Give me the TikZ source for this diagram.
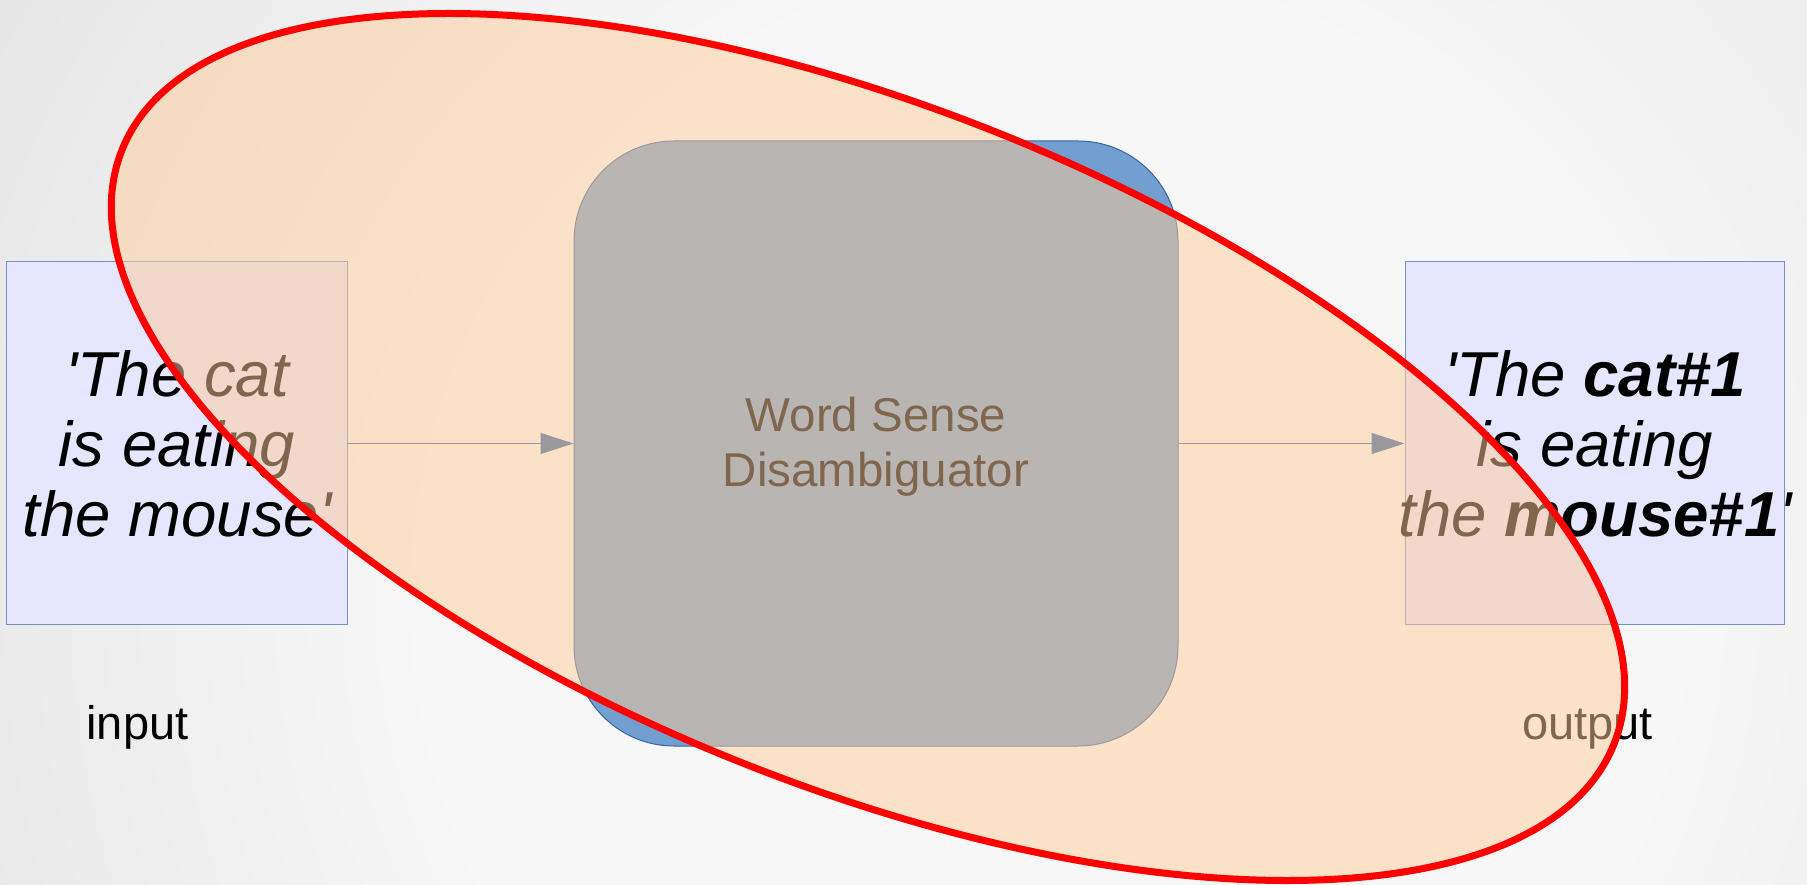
\documentclass[tikz,border=0pt]{standalone}
\usepackage{fontspec}
\setmainfont{Liberation Sans}
\usetikzlibrary{arrows.meta}
\definecolor{bginner}{HTML}{F7F7F7}
\definecolor{bgouter}{HTML}{E3E3E3}
\definecolor{shapeblue}{HTML}{729FCF}
\definecolor{lineblue}{HTML}{3465A4}
\definecolor{boxlav}{HTML}{E6E6FF}
\definecolor{peach}{HTML}{FFCC99}
% soft radial backdrop with a flat bright core
\pgfdeclareradialshading{slidebg}{\pgfpoint{0bp}{0bp}}{%
  color(0bp)=(bginner); color(12bp)=(bginner); color(25bp)=(bgouter); color(50bp)=(bgouter)}
\begin{document}
\begin{tikzpicture}[x=1pt,y=1pt,
  sentbox/.style={draw=lineblue!70, line width=1pt, fill=boxlav, inner sep=0pt},
  sentence/.style={font=\fontsize{63.5}{70}\selectfont\itshape, align=center, inner sep=0pt},
  flow/.style={draw=lineblue, line width=1pt, -{Triangle[length=33pt,width=21pt]}},
  engine/.style={draw=lineblue, line width=1pt, fill=shapeblue, rounded corners=100pt,
    inner sep=0pt},
  enginetext/.style={font=\fontsize{47.5}{55}\selectfont, align=center, inner sep=0pt},
  caption/.style={font=\fontsize{47}{56}\selectfont, anchor=base, inner sep=0pt},
  highlight/.style={fill=peach, fill opacity=0.5, draw=red, draw opacity=1, line width=7pt}
]
\useasboundingbox (0,0) rectangle (1807,884);
% slide background
\begin{scope}
  \clip (0,0) rectangle (1807,884);
  \shade[shading=slidebg] (1050,284) circle (1300);
\end{scope}

% input sentence
\node[sentbox, minimum width=341pt, minimum height=363pt] (src) at (176.5,440.5) {};
\node[sentence] (srctext) at (177,440.5)
  {\textquotesingle The cat\\is eating\\the mouse\textquotesingle};

% disambiguation engine
\node[engine, minimum width=604pt, minimum height=605pt] (wsd) at (876,440.5) {};
\node[enginetext] (wsdtext) at (876,437) {Word Sense\\Disambiguator};

% output sentence
\node[sentbox, minimum width=379pt, minimum height=363pt] (dst) at (1594.5,440.5) {};
\node[sentence] (dsttext) at (1595,440.5)
  {\textquotesingle The \textbf{cat\#1}\\is eating\\the \textbf{mouse\#1}\textquotesingle};

% data flow
\draw[flow] (src.east) -- (wsd.west);
\draw[flow] (wsd.east) -- (dst.west);

% captions
\node[caption] (inlabel) at (137.5,145) {input};
\node[caption] (outlabel) at (1587.5,145) {output};

% translucent highlight ring over the whole pipeline
\coordinate (ringc) at (868,437);
\path[highlight, rotate around={-21.7:(ringc)}] (ringc) ellipse [x radius=803pt, y radius=340pt];
\end{tikzpicture}
\end{document}
